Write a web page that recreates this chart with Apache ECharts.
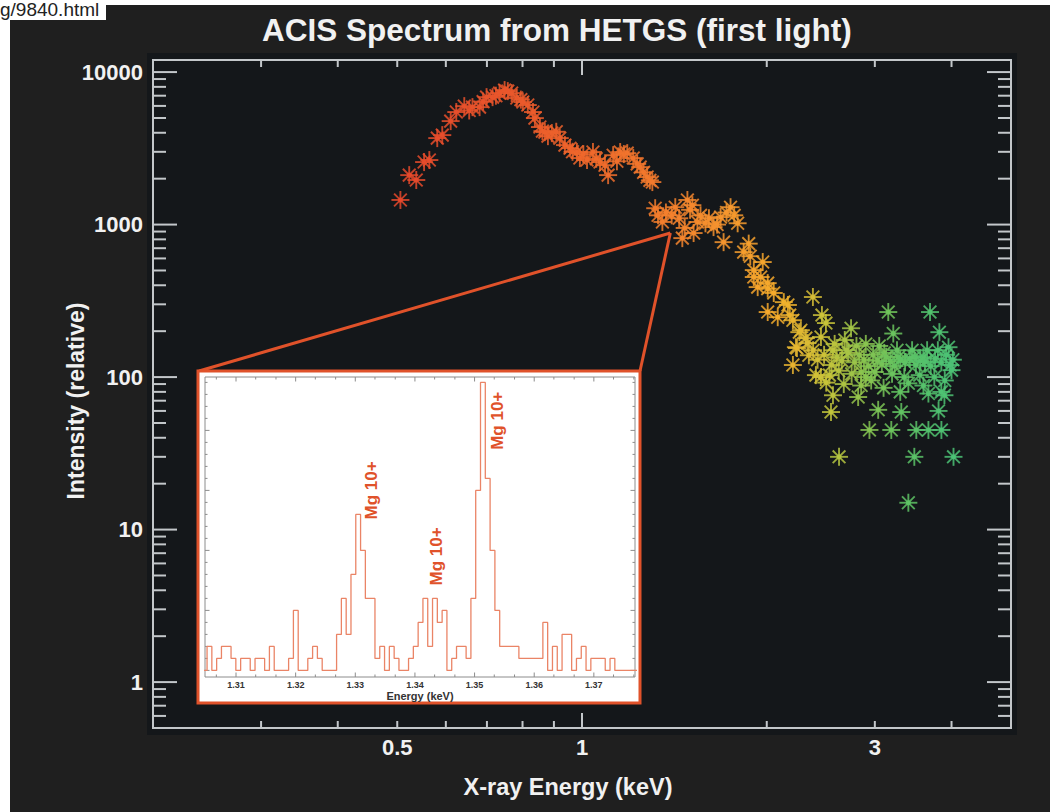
<!DOCTYPE html>
<html><head><meta charset="utf-8">
<script src="https://cdn.jsdelivr.net/npm/echarts@6/dist/echarts.min.js"></script>
<style>html,body{margin:0;padding:0;background:#fff;}#chart{width:1050px;height:812px;}</style>
</head><body><div id="chart"></div>
<script>
// ---------- main spectrum: [energy keV, relative intensity] ----------
const spectrumPoints = [
  [0.506,1450],[0.523,2110],[0.537,1960],[0.553,2570],[0.564,2650],[0.581,3690],[0.592,3860],[0.611,4770],
  [0.624,5470],[0.643,5980],[0.655,5600],[0.663,5890],[0.681,5890],[0.690,6400],[0.699,6850],[0.715,6850],
  [0.724,7000],[0.734,7280],[0.748,7620],[0.757,7500],[0.768,7280],[0.783,6760],[0.795,6600],[0.801,6360],
  [0.816,6080],[0.832,5470],[0.838,4990],[0.854,4360],[0.862,4100],[0.870,4040],[0.880,3800],[0.893,3980],
  [0.908,4060],[0.920,3690],[0.938,3320],[0.956,3170],[0.965,3000],[0.981,2990],[0.992,2730],[1.005,2900],
  [1.019,2650],[1.042,2990],[1.055,2700],[1.070,2570],[1.090,2450],[1.103,2110],[1.124,2850],[1.140,2600],
  [1.154,2990],[1.170,2900],[1.185,2940],[1.212,2730],[1.230,2500],[1.244,2380],[1.260,2200],[1.277,2050],
  [1.290,1950],[1.302,1900],
  [1.316,1280],[1.330,1150],[1.352,1040],[1.370,1200],[1.400,1150],[1.419,1300],[1.440,1100],[1.457,815],
  [1.470,950],[1.485,1450],[1.500,1250],[1.513,1340],[1.520,880],[1.542,1040],[1.560,1150],[1.589,1020],
  [1.610,1100],[1.638,963],[1.660,1000],[1.682,1120],[1.701,767],[1.720,1200],[1.746,1300],[1.770,1150],
  [1.793,1020],[1.834,660],[1.869,750],[1.880,620],
  [1.905,503],[1.905,453],[1.933,389],[1.955,453],[1.970,568],[2.007,413],[2.007,380],[2.053,356],
  [2.007,267],[2.084,247],[2.132,310],[2.165,297],[2.180,255],[2.206,236],[2.260,197],[2.273,203],
  [2.231,157],[2.240,155],[2.316,180],[2.330,167],[2.342,139],[2.206,120],[2.405,103],
  [2.378,335],[2.460,255],[2.497,226],[2.451,183],[2.564,150],[2.530,103],[2.564,76],[2.545,59],
  [2.623,30],[2.744,209],[2.714,144],[2.818,74],[2.850,108],[2.959,95],[2.940,45],[3.038,61],
  [3.155,267],[3.108,144],[3.215,193],[3.276,135],[3.191,45],[3.313,59],[3.402,91],[3.479,135],
  [3.479,30],[3.402,15],[3.505,45],[3.668,45],[3.690,267],[3.599,135],[3.668,78],[3.822,197],
  [3.851,45],[3.810,60],[3.895,76],[3.955,157],[4.000,111],[4.030,30],
  [2.60,135],[2.65,128],[2.70,150],[2.78,125],[2.83,140],[2.88,130],[2.93,118],[2.98,140],
  [3.03,128],[3.08,122],[3.13,136],[3.18,127],[3.23,118],[3.30,130],[3.36,125],[3.42,132],
  [3.50,120],[3.56,128],[3.62,126],[3.70,118],[3.76,132],[3.85,125],[3.92,140],[3.98,120],
  [2.62,110],[2.75,105],[2.90,100],[3.00,108],[3.20,105],[3.35,100],[3.55,103],[3.75,100],[3.90,95],
  [2.58,165],[2.68,175],[2.80,160],[2.90,165],[3.05,160],[3.26,150],[3.45,150],[3.65,150],[3.80,150],[4.02,130],
  [2.55,120],[2.48,140],[2.42,130],[2.38,150],[2.45,100],[2.50,92],[2.67,90],[2.85,88],[3.10,85],
  [3.30,80],[3.60,88],[3.85,80]
];
// ---------- main axes ----------
const xTickLabels = [0.5, 1, 3];
const xMajorTicks = [1];
const xMinorTicks = [0.3,0.4,0.5,0.6,0.7,0.8,0.9,2,3,4];
const yTickLabels = [1, 10, 100, 1000, 10000];
const yMajorTicks = [1, 10, 100, 1000, 10000];
const yMinorTicks = [0.6,0.7,0.8,0.9,2,3,4,5,6,7,8,9,20,30,40,50,60,70,80,90,
  200,300,400,500,600,700,800,900,2000,3000,4000,5000,6000,7000,8000,9000];
// ---------- inset histogram (counts per bin) ----------
const insetBinStart = 1.30434;
const insetBinWidth = 0.0008044;
const insetCounts = [0,
  2,0,1,2,2,1,0,1,1,0, 1,1,0,2,0,0,0,1,5,0,
  0,1,2,1,0,0,0,3,6,3, 8,13,10,6,6,1,2,0,2,1,
  0,0,1,2,4,6,2,6,4,5, 0,1,2,2,1,6,15,24,16,10,
  5,2,2,2,2,1,1,1,1,1, 4,0,2,0,3,3,0,1,2,0,
  1,1,1,0,1,0,0,0,0,0];
const insetXLabels = [1.31,1.32,1.33,1.34,1.35,1.36,1.37];
const insetXMajorTicks = [1.31,1.32,1.33,1.34,1.35,1.36,1.37];
const insetXMinorTicks = [1.3067,1.3133,1.3167,1.3233,1.3267,1.3333,1.3367,1.3433,1.3467,
  1.3533,1.3567,1.3633,1.3667,1.3733,1.3767];
const insetYMajorTicks = [0,5,10,15,20];
const insetYMinorTicks = [1,2,3,4,6,7,8,9,11,12,13,14,16,17,18,19,21,22,23,24];
const lineLabels = [[1.3328,15.0,'Mg 10+'],[1.3437,9.5,'Mg 10+'],[1.3539,20.8,'Mg 10+']];
const zoomApex = [[1.393, 880]];

// ---------- styles ----------
const FONT = 'Liberation Sans, Arial, Helvetica, sans-serif';
const TXT = '#f1f1f1';
const FRAME = '#c3c7ca';
const ORANGE = '#e0522a';
const INSET = {x: 198, y: 371, w: 442, h: 332};

const chart = echarts.init(document.getElementById('chart'), null, {renderer: 'svg'});

function starItem(params, api) {
  const p = api.coord([api.value(0), api.value(1)]);
  const c = api.visual('color');
  const r = 9, d = r * Math.SQRT1_2;
  const st = {stroke: c, lineWidth: 1.9, opacity: 0.85};
  return {type: 'group', children: [
    {type: 'line', shape: {x1: p[0]-r, y1: p[1], x2: p[0]+r, y2: p[1]}, style: st},
    {type: 'line', shape: {x1: p[0], y1: p[1]-r, x2: p[0], y2: p[1]+r}, style: st},
    {type: 'line', shape: {x1: p[0]-d, y1: p[1]-d, x2: p[0]+d, y2: p[1]+d}, style: st},
    {type: 'line', shape: {x1: p[0]-d, y1: p[1]+d, x2: p[0]+d, y2: p[1]-d}, style: st},
    {type: 'circle', shape: {cx: p[0], cy: p[1], r: 2.5}, style: {fill: c, opacity: 0.9}}
  ]};
}
function xTicks(len, color, width) {
  return function (params, api) {
    const cs = params.coordSys;
    const x = api.coord([api.value(0), api.value(1)])[0];
    const yb = cs.y + cs.height, yt = cs.y;
    const st = {stroke: color, lineWidth: width};
    return {type: 'group', children: [
      {type: 'line', shape: {x1: x, y1: yb, x2: x, y2: yb - len}, style: st},
      {type: 'line', shape: {x1: x, y1: yt, x2: x, y2: yt + len}, style: st}
    ]};
  };
}
function yTicks(len, color, width) {
  return function (params, api) {
    const cs = params.coordSys;
    const y = api.coord([api.value(0), api.value(1)])[1];
    const xl = cs.x, xr = cs.x + cs.width;
    const st = {stroke: color, lineWidth: width};
    return {type: 'group', children: [
      {type: 'line', shape: {x1: xl, y1: y, x2: xl + len, y2: y}, style: st},
      {type: 'line', shape: {x1: xr, y1: y, x2: xr - len, y2: y}, style: st}
    ]};
  };
}
function tickSeries(render, data, xi, z) {
  return {type: 'custom', xAxisIndex: xi, yAxisIndex: xi, renderItem: render, data: data,
    silent: true, clip: false, z: z, animation: false};
}
const histData = insetCounts.map((c, i) => [insetBinStart + i * insetBinWidth, c]);
histData.push([insetBinStart + insetCounts.length * insetBinWidth, insetCounts[insetCounts.length - 1]]);

const fmt = v => String(+(+v).toPrecision(6));

const option = {
  backgroundColor: '#ffffff',
  animation: false,
  textStyle: {fontFamily: FONT},
  title: {
    text: 'ACIS Spectrum from HETGS (first light)',
    left: 262, top: 14, padding: 0,
    textStyle: {color: TXT, fontSize: 31.5, fontWeight: 'bold', fontFamily: FONT}
  },
  graphic: [
    {type: 'rect', z: -10, silent: true, shape: {x: 10, y: 5, width: 1040, height: 807}, style: {fill: '#1f1f1f'}},
    {type: 'rect', z: -9, silent: true, shape: {x: 0, y: 0, width: 106, height: 20}, style: {fill: '#ffffff'}},
    {type: 'text', z: -8, silent: true, x: 0, y: 0, style: {text: 'g/9840.html', fill: '#222', font: '19px ' + FONT}},
    {type: 'rect', z: -7, silent: true, shape: {x: 147, y: 53, width: 870, height: 682}, style: {fill: '#14171a'}},
    {type: 'rect', z: 10, silent: true, shape: {x: INSET.x, y: INSET.y, width: INSET.w, height: INSET.h},
      style: {fill: '#ffffff', stroke: ORANGE, lineWidth: 3}}
  ],
  visualMap: {
    show: false, type: 'continuous', seriesIndex: 0, dimension: 0, min: 0.5, max: 4.1,
    inRange: {color: ['#e4482c','#ec602c','#f27a2d','#f5952f','#f5ae2c','#c8c43a','#88c450','#62c362','#52c26e','#4ac278']}
  },
  grid: [
    {left: 153, top: 60, width: 858, height: 668, show: true, borderColor: FRAME, borderWidth: 2,
      backgroundColor: 'transparent', containLabel: false, outerBoundsMode: 'none'},
    {left: 205, top: 377, width: 430, height: 300, show: true, borderColor: '#8c8c8c', borderWidth: 1,
      backgroundColor: '#ffffff', containLabel: false, outerBoundsMode: 'none', z: 11}
  ],
  xAxis: [
    {type: 'log', gridIndex: 0, min: 0.2, max: 5, logBase: 10,
      axisLine: {show: false}, axisTick: {show: false}, splitLine: {show: false}, minorTick: {show: false},
      axisLabel: {customValues: xTickLabels, formatter: fmt, color: TXT, fontSize: 22, fontWeight: 'bold', margin: 8, fontFamily: FONT},
      name: 'X-ray Energy (keV)', nameLocation: 'middle', nameGap: 47, nameMoveOverlap: false,
      nameTextStyle: {color: TXT, fontSize: 23.5, fontWeight: 'bold', fontFamily: FONT, padding: [0, 28, 0, 0]}},
    {type: 'value', gridIndex: 1, min: 1.3048, max: 1.3769, z: 12,
      axisLine: {show: false}, axisTick: {show: false}, splitLine: {show: false},
      axisLabel: {customValues: insetXLabels, formatter: v => (+v).toFixed(2), color: '#333', fontSize: 9, fontWeight: 'bold', margin: 3, fontFamily: FONT},
      name: 'Energy (keV)', nameLocation: 'middle', nameGap: 13, nameMoveOverlap: false,
      nameTextStyle: {color: '#333', fontSize: 11, fontWeight: 'bold', fontFamily: FONT}}
  ],
  yAxis: [
    {type: 'log', gridIndex: 0, min: 0.5, max: 12000, logBase: 10,
      axisLine: {show: false}, axisTick: {show: false}, splitLine: {show: false}, minorTick: {show: false},
      axisLabel: {customValues: yTickLabels, formatter: fmt, color: TXT, fontSize: 22, fontWeight: 'bold', margin: 10, fontFamily: FONT},
      name: 'Intensity (relative)', nameLocation: 'middle', nameGap: 66, nameRotate: 90, nameMoveOverlap: false,
      nameTextStyle: {color: TXT, fontSize: 23, fontWeight: 'bold', fontFamily: FONT, padding: [0, 14, 0, 0]}},
    {type: 'value', gridIndex: 1, min: -0.55, max: 24.45, z: 12,
      axisLine: {show: false}, axisTick: {show: false}, splitLine: {show: false}, axisLabel: {show: false}}
  ],
  series: [
    {type: 'custom', name: 'spectrum', xAxisIndex: 0, yAxisIndex: 0, renderItem: starItem,
      data: spectrumPoints, clip: true, z: 2, silent: true},
    tickSeries(xTicks(15, FRAME, 2), xMajorTicks.map(v => [v, 1]), 0, 3),
    tickSeries(xTicks(7, FRAME, 2), xMinorTicks.map(v => [v, 1]), 0, 3),
    tickSeries(yTicks(24, FRAME, 2), yMajorTicks.map(v => [1, v]), 0, 3),
    tickSeries(yTicks(13, FRAME, 2), yMinorTicks.map(v => [1, v]), 0, 3),
    {type: 'custom', xAxisIndex: 0, yAxisIndex: 0, data: zoomApex, clip: false, silent: true, z: 9,
      renderItem: function (params, api) {
        const p = api.coord([api.value(0), api.value(1)]);
        const st = {stroke: ORANGE, lineWidth: 3};
        return {type: 'group', children: [
          {type: 'line', shape: {x1: INSET.x + 1, y1: INSET.y, x2: p[0], y2: p[1]}, style: st},
          {type: 'line', shape: {x1: INSET.x + INSET.w, y1: INSET.y, x2: p[0], y2: p[1]}, style: st}
        ]};
      }},
    tickSeries(xTicks(4.5, '#8c8c8c', 1), insetXMajorTicks.map(v => [v, 0]), 1, 12),
    tickSeries(xTicks(2.5, '#8c8c8c', 1), insetXMinorTicks.map(v => [v, 0]), 1, 12),
    tickSeries(yTicks(4.5, '#8c8c8c', 1), insetYMajorTicks.map(v => [1.34, v]), 1, 12),
    tickSeries(yTicks(2.5, '#8c8c8c', 1), insetYMinorTicks.map(v => [1.34, v]), 1, 12),
    {type: 'line', xAxisIndex: 1, yAxisIndex: 1, data: histData, step: 'end', symbol: 'none',
      lineStyle: {color: '#ea8466', width: 1.3}, z: 13, silent: true},
    {type: 'scatter', xAxisIndex: 1, yAxisIndex: 1, data: lineLabels, symbolSize: 1,
      itemStyle: {color: 'rgba(0,0,0,0)', opacity: 1}, z: 14, silent: true,
      label: {show: true, position: 'inside', rotate: 90, formatter: p => p.data[2],
        color: ORANGE, opacity: 1, fontSize: 17, fontWeight: 'bold', fontFamily: FONT}}
  ]
};
chart.setOption(option);
</script>
</body></html>
